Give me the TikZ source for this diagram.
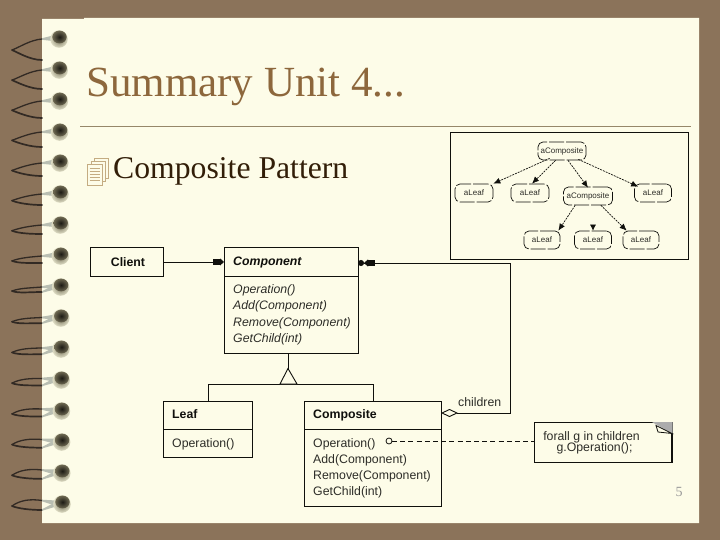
\documentclass[tikz,border=0pt]{standalone}
\usepackage{fontspec}
\setmainfont{Liberation Serif}
\newfontfamily\dsans{Liberation Sans}
\usetikzlibrary{arrows.meta,calc}
\definecolor{bgbrown}{RGB}{139,115,90}
\definecolor{paper}{RGB}{253,252,232}
\definecolor{titlec}{RGB}{141,103,60}
\definecolor{bodyc}{RGB}{50,30,8}
\definecolor{rulec}{RGB}{150,135,105}
\definecolor{iconc}{RGB}{196,172,130}
\definecolor{inkc}{RGB}{16,16,12}
\definecolor{txtc}{RGB}{45,45,40}
\definecolor{wiredark}{RGB}{50,42,36}
\definecolor{wirelight}{RGB}{185,190,178}
\definecolor{ballout}{RGB}{196,194,165}
\definecolor{ballmid}{RGB}{110,105,82}
\definecolor{ballin}{RGB}{28,26,20}
\tikzset{
  x=1pt,y=-1pt,
  umlbox/.style={draw=inkc,line width=0.9pt,fill=paper,inner sep=0pt,anchor=north west},
  mem/.style={font=\dsans\fontsize{12.3}{13}\selectfont,text=txtc,anchor=base west,inner sep=0pt},
  memi/.style={mem,font=\dsans\itshape\fontsize{12.3}{13}\selectfont},
  head/.style={mem,font=\dsans\bfseries\fontsize{12.3}{13}\selectfont,text=inkc},
  headi/.style={head,font=\dsans\bfseries\itshape\fontsize{12.3}{13}\selectfont},
  uline/.style={draw=inkc,line width=0.9pt},
  objnode/.style={draw=inkc,line width=0.7pt,rounded corners=5pt,dash pattern=on 15pt off 2pt,inner sep=0pt,
    font=\dsans\fontsize{8}{9}\selectfont,text=txtc,minimum height=18pt},
  objlink/.style={draw=inkc,line width=0.7pt,dash pattern=on 2pt off 1pt,-{Latex[length=7pt,width=6pt]}},
  blockhead/.style={-{Square[length=7pt,width=6.5pt]Triangle[length=4pt,width=7pt]}},
}
\begin{document}
\begin{tikzpicture}
\useasboundingbox (0,0) rectangle (720,540);
\fill[bgbrown] (0,0) rectangle (720,540);
\fill[paper] (42,19) -- (84,19) -- (84,18) -- (699,18) -- (699,523) -- (42,523) -- cycle;

% spiral binding
\foreach \k in {0,...,15}{
  \pgfmathsetmacro{\yy}{38+31*\k}
  \pgfmathsetmacro{\tipy}{\yy+(\k<=8 ? 12-7*\k/8 : 5-2*(\k-8)/7)}
  \pgfmathsetmacro{\lowy}{\yy+(\k<=8 ? 22-2*\k : 6+(\k-8)/7)}
  \pgfmathsetmacro{\upy}{\yy+(\k<=8 ? 1 : 1-(\k-8)*0.5)}
  \pgfmathsetmacro{\bow}{\k<=8 ? 0 : (\k-8)*0.4}
  \pgfmathsetmacro{\bx}{59+3*\k/15}
  \draw[wiredark,line width=1.7pt,line cap=round] (42,\lowy) .. controls (30,\lowy) and (18,\tipy+2.5) .. (12,\tipy);
  \draw[wiredark,line width=1.3pt,line cap=round] (12,\tipy) .. controls (20,\tipy-3-\bow) and (30,\upy+1-\bow) .. (42,\upy);
  \fill[wirelight] (42,\upy-0.8) -- (\bx-6,\yy-2.5) -- (\bx-6,\yy+3) -- (42,\upy+0.8) -- cycle;
  \ifnum\k>7 \fill[wirelight] (42,\lowy-0.8) -- (\bx-6,\yy-1) -- (\bx-6,\yy+3.5) -- (42,\lowy+0.8) -- cycle; \fi
  \shade[inner color=ballmid,outer color=ballout!50!paper] (\bx,\yy+1) circle[radius=8.8];
  \shade[inner color=ballin,outer color=ballmid] (\bx+0.5,\yy-1) ellipse[x radius=7.2,y radius=6.4];
}

% heading
\node[anchor=base west,inner sep=0pt,text=titlec,font=\fontsize{43}{46}\selectfont] (title) at (86,97) {Summary Unit 4...};
\coordinate (ruleL) at (80,127);
\coordinate (ruleR) at (691,127);
\draw[rulec,line width=1pt] (ruleL) -- (ruleR);

% bullet icon
\begin{scope}[draw=iconc,line width=0.8pt,fill=paper]
  \filldraw (94,158) rectangle (108,178);
  \filldraw (91,161) rectangle (105,181);
  \filldraw (87,164) rectangle (102,185);
  \foreach \yy in {168,171,174,177,180}{\draw (89.5,\yy) -- (99.5,\yy);}
\end{scope}
\node[anchor=base west,inner sep=0pt,text=bodyc,font=\fontsize{31.7}{33}\selectfont] (bullet) at (113,179) {Composite Pattern};

% object diagram inset
\node[draw=inkc,line width=1pt,fill=paper,inner sep=0pt,anchor=north west,minimum width=238pt,minimum height=126.5pt] (inset) at (450,132) {};
\node[objnode,minimum width=48pt] (o0) at (562,151) {aComposite};
\node[objnode,minimum width=38pt] (o1) at (474,193) {aLeaf};
\node[objnode,minimum width=38pt] (o2) at (530,193) {aLeaf};
\node[objnode,minimum width=49pt] (o3) at (588,196) {aComposite};
\node[objnode,minimum width=37pt] (o4) at (653,193) {aLeaf};
\node[objnode,minimum width=36pt] (o5) at (542,240) {aLeaf};
\node[objnode,minimum width=37pt] (o6) at (593,240) {aLeaf};
\node[objnode,minimum width=36pt] (o7) at (641,240) {aLeaf};
\draw[objlink] ($(o0.south west)+(12,-2)$) -- (o1.north east);
\draw[objlink] ($(o0.south west)+(18,0)$) -- ($(o2.north)+(2,0)$);
\draw[objlink] ($(o0.south)+(6,0)$) -- ($(o3.north)+(0,1)$);
\draw[objlink] ($(o0.south east)+(-8,-1)$) -- ($(o4.north west)+(4,3)$);
\draw[objlink] ($(o3.south west)+(12,0)$) -- ($(o5.north east)+(-2,0)$);
\draw[-{Latex[length=6pt,width=6pt]},draw=inkc,line width=0.7pt] ($(o6.north)+(0,-4)$) -- (o6.north);
\draw[objlink] ($(o3.south east)+(-12,0)$) -- ($(o7.north west)+(4,0)$);

% class boxes
\node[umlbox,minimum width=73pt,minimum height=29pt] (client) at (90,247) {};
\node[head,anchor=center] (clientT) at (128,262) {Client};

\node[umlbox,minimum width=134pt,minimum height=106pt] (comp) at (224,247) {};
\draw[uline] (224,276) -- (358,276);
\node[headi] (compT) at (233,265) {Component};
\node[memi] (c1) at (233,293) {Operation()};
\node[memi] (c2) at (233,309) {Add(Component)};
\node[memi] (c3) at (233,326) {Remove(Component)};
\node[memi] (c4) at (233,342) {GetChild(int)};

\node[umlbox,minimum width=89pt,minimum height=56pt] (leaf) at (163,401) {};
\draw[uline] (163,429) -- (252,429);
\node[head] (leafT) at (172,418) {Leaf};
\node[mem] (l1) at (172,447) {Operation()};

\node[umlbox,minimum width=137pt,minimum height=105pt] (compo) at (304,401) {};
\draw[uline] (304,429) -- (441,429);
\node[head] (compoT) at (313,418) {Composite};
\node[mem] (p1) at (313,447) {Operation()};
\node[mem] (p2) at (313,463) {Add(Component)};
\node[mem] (p3) at (313,479) {Remove(Component)};
\node[mem] (p4) at (313,495) {GetChild(int)};

% note
\node[umlbox,minimum width=138pt,minimum height=40pt] (note) at (534,422) {};
\draw[inkc,line width=1.8pt] (672,423) -- (672,462);
\fill[gray!65] (652,422) -- (672.5,422) -- (672.5,434) -- cycle;
\draw[inkc,line width=0.8pt,fill=paper] (656,425.5) -- (658,432) -- (672,433.5) -- cycle;
\node[mem,anchor=base] (n1) at (591.5,440) {forall g in children};
\node[mem,anchor=base] (n2) at (594.5,451.5) {g.Operation();};

% connectors
\draw[uline,blockhead] (client.east) -- (comp.west |- client.east);

\coordinate (inhApex) at (288,368.5);
\coordinate (inhBase) at (288,384);
\draw[uline] (comp.south -| inhApex) -- (inhApex);
\draw[uline] (leaf.north -| 208,0) -- (208,384) -- (373,384) -- (compo.north -| 373,0);
\draw[uline,fill=paper] (inhApex) -- (280,384) -- (297,384) -- cycle;

\coordinate (aggA) at (441,413);
\coordinate (aggB) at (510,413);
\coordinate (aggC) at (510,263);
\coordinate (aggD) at (358,263);
\draw[uline,{Diamond[fill=paper,length=17pt,width=8pt]}-{Square[length=7pt,width=6.5pt]Triangle[length=4pt,width=7pt]Circle[length=6pt]}] (aggA) -- (aggB) -- (aggC) -- (aggD);
\node[mem,anchor=base west] (childL) at (458,406) {children};

\draw[uline,line width=0.8pt,dash pattern=on 5pt off 3.2pt] (392,441) -- (note.west |- 0,441);
\node[draw=inkc,line width=0.8pt,fill=paper,circle,minimum size=6pt,inner sep=0pt] (dot) at (389,441) {};

\node[anchor=center,inner sep=0pt,text=gray!80,font=\fontsize{14}{14}\selectfont] (pg) at (679,492) {5};
\end{tikzpicture}
\end{document}
